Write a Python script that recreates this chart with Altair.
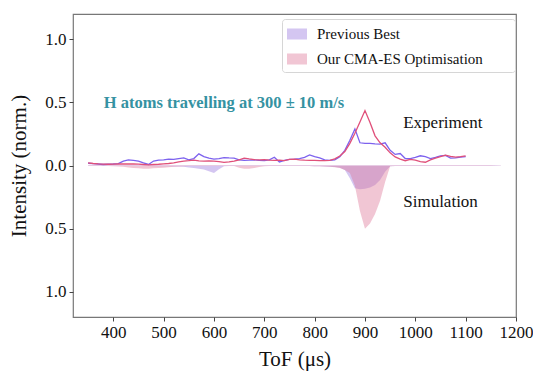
import altair as alt
import pandas as pd

# ---------------- data ----------------
series_names = ["Previous Best", "Our CMA-ES Optimisation"]

exp_t = list(range(350, 1101, 10))
prev_exp = [
    0.018, 0.015, 0.012, 0.008, 0.01, 0.012, 0.015, 0.035, 0.045, 0.04,
    0.035, 0.02, 0.008, 0.035, 0.042, 0.045, 0.05, 0.048, 0.055, 0.06,
    0.045, 0.055, 0.092, 0.07, 0.058, 0.05, 0.055, 0.063, 0.06, 0.058,
    0.045, 0.04, 0.042, 0.045, 0.04, 0.038, 0.045, 0.066, 0.028, 0.04,
    0.048, 0.05, 0.055, 0.065, 0.084, 0.07, 0.06, 0.045, 0.04, 0.045,
    0.07, 0.12, 0.2, 0.29, 0.18, 0.175, 0.175, 0.172, 0.17, 0.18,
    0.12, 0.088, 0.095, 0.055, 0.055, 0.065, 0.077, 0.07, 0.055, 0.065,
    0.077, 0.08, 0.058, 0.06, 0.066, 0.07,
]
ours_exp = [
    0.02, 0.016, 0.013, 0.011, 0.01, 0.011, 0.012, 0.013, 0.012, 0.012,
    0.011, 0.008, 0.005, 0.008, 0.01, 0.013, 0.016, 0.02, 0.028, 0.035,
    0.038, 0.042, 0.036, 0.034, 0.036, 0.034, 0.03, 0.025, 0.028, 0.035,
    0.045, 0.058, 0.052, 0.047, 0.045, 0.047, 0.043, 0.04, 0.042, 0.038,
    0.048, 0.05, 0.045, 0.042, 0.04, 0.04, 0.038, 0.038, 0.04, 0.052,
    0.075, 0.11, 0.175, 0.255, 0.345, 0.435, 0.34, 0.235, 0.18, 0.145,
    0.1, 0.068, 0.05, 0.038, 0.048, 0.042, 0.03, 0.026, 0.045, 0.058,
    0.07, 0.082, 0.072, 0.066, 0.07, 0.077,
]

sim_t = list(range(350, 1171, 10))
prev_sim = [
    -0.004, -0.004, -0.004, -0.004, -0.004, -0.004, -0.004, -0.004, -0.004, -0.004,
    -0.004, -0.004, -0.004, -0.005, -0.005, -0.006, -0.006, -0.007, -0.008, -0.01,
    -0.015, -0.02, -0.025, -0.032, -0.045, -0.06, -0.03, -0.005, -0.003, -0.003,
    -0.003, -0.003, -0.003, -0.003, -0.003, -0.003, -0.003, -0.003, -0.003, -0.003,
    -0.003, -0.003, -0.003, -0.003, -0.004, -0.005, -0.006, -0.008, -0.01, -0.012,
    -0.018, -0.035, -0.1, -0.18, -0.188, -0.185, -0.175, -0.155, -0.115, -0.05,
    -0.006, -0.003, -0.003, -0.003, -0.003, -0.003, -0.003, -0.003, -0.003, -0.003,
    -0.003, -0.003, -0.003, -0.003, -0.003, -0.003, -0.003, -0.003, -0.003, -0.003,
    -0.003, -0.003, -0.002,
]
ours_sim = [
    -0.003, -0.003, -0.003, -0.003, -0.004, -0.005, -0.007, -0.01, -0.015, -0.02,
    -0.022, -0.025, -0.025, -0.022, -0.02, -0.018, -0.014, -0.01, -0.007, -0.005,
    -0.004, -0.003, -0.003, -0.003, -0.003, -0.003, -0.003, -0.003, -0.003, -0.003,
    -0.018, -0.025, -0.025, -0.02, -0.012, -0.006, -0.004, -0.003, -0.003, -0.003,
    -0.003, -0.003, -0.003, -0.003, -0.004, -0.005, -0.006, -0.008, -0.01, -0.013,
    -0.02, -0.035, -0.06, -0.16, -0.36, -0.5, -0.46, -0.385, -0.28, -0.13,
    -0.005, -0.003, -0.003, -0.003, -0.003, -0.003, -0.003, -0.003, -0.003, -0.003,
    -0.003, -0.003, -0.003, -0.003, -0.003, -0.003, -0.003, -0.003, -0.003, -0.003,
    -0.003, -0.002, -0.002,
]

x_ticks = [400, 500, 600, 700, 800, 900, 1000, 1100, 1200]
y_ticks = [-1.0, -0.5, 0.0, 0.5, 1.0]

annotations = pd.DataFrame({
    "t": [381, 976, 976],
    "v": [0.455, 0.295, -0.327],
    "label": ["H atoms travelling at 300 ± 10 m/s", "Experiment", "Simulation"],
    "kind": ["title", "plain", "plain"],
})

# ---------------- frames ----------------
exp_df = pd.DataFrame({
    "t": exp_t * 2,
    "v": prev_exp + ours_exp,
    "series": [series_names[0]] * len(exp_t) + [series_names[1]] * len(exp_t),
})
sim_df = pd.DataFrame({
    "t": sim_t * 2,
    "v": prev_sim + ours_sim,
    "series": [series_names[0]] * len(sim_t) + [series_names[1]] * len(sim_t),
})

FONT = "Times New Roman, Liberation Serif, serif"

xscale = alt.Scale(domain=[320, 1200], nice=False, zero=False)
yscale = alt.Scale(domain=[-1.2, 1.2], nice=False)

x_enc = alt.X("t:Q", scale=xscale, title="ToF (μs)",
              axis=alt.Axis(values=x_ticks, format="d", grid=False,
                            labelFlush=False, labelOverlap=False))
y_enc = alt.Y("v:Q", scale=yscale, title="Intensity (norm.)", stack=None,
              axis=alt.Axis(values=y_ticks, grid=False, labelFlush=False,
                            labelExpr="format(abs(datum.value), '.1f')"))

areas = alt.Chart(sim_df).mark_area(opacity=0.4, interpolate="linear").encode(
    x=x_enc,
    y=y_enc,
    color=alt.Color(
        "series:N",
        scale=alt.Scale(domain=series_names, range=["#9370DB", "#DB7093"]),
        legend=alt.Legend(
            title="MMM",
            titleOrient="right",
            titleFontSize=10.5,
            titleColor="#ffffff",
            titlePadding=0,
            orient="none",
            legendX=209,
            legendY=5,
            symbolType="M-1,-0.55L1,-0.55L1,0.55L-1,0.55Z",
            symbolSize=400,
            symbolOpacity=0.4,
            symbolStrokeWidth=0,
            labelFont=FONT,
            labelFontSize=15,
            labelColor="#111",
            labelLimit=0,
            labelOffset=10,
            rowPadding=7,
            padding=5,
            strokeColor="#d6d6d6",
            fillColor="white",
            cornerRadius=3,
        ),
    ),
    order=alt.Order("series:N"),
)

line_prev = alt.Chart(exp_df).transform_filter(
    alt.datum.series == series_names[0]
).mark_line(color="#7d62ee", strokeWidth=1.3).encode(x="t:Q", y="v:Q")

line_ours = alt.Chart(exp_df).transform_filter(
    alt.datum.series == series_names[1]
).mark_line(color="#e0507a", strokeWidth=1.3).encode(x="t:Q", y="v:Q")

title_txt = alt.Chart(annotations).transform_filter(
    alt.datum.kind == "title"
).mark_text(align="left", baseline="alphabetic", font=FONT, fontSize=16.5,
            fontWeight="bold", color="#3592a2").encode(
    x="t:Q", y="v:Q", text="label:N")

plain_txt = alt.Chart(annotations).transform_filter(
    alt.datum.kind == "plain"
).mark_text(align="left", baseline="alphabetic", font=FONT, fontSize=17,
            color="#111").encode(
    x="t:Q", y="v:Q", text="label:N")

chart = alt.layer(areas, line_prev, line_ours, title_txt, plain_txt).properties(
    width=443,
    height=303,
    autosize=alt.AutoSizeParams(type="none"),
    padding={"left": 65, "top": 6, "right": 17, "bottom": 58},
).configure_view(
    stroke="#777777", strokeWidth=1.2
).configure_axis(
    domain=False,
    labelFont=FONT,
    titleFont=FONT,
    labelFontSize=17,
    titleFontSize=21,
    titleFontWeight="normal",
    labelColor="#111",
    titleColor="#111",
    tickColor="#444",
    tickSize=4,
    labelPadding=3,
).configure_axisX(
    titlePadding=8,
).configure_axisY(
    titlePadding=15,
)

chart.save("out.html", embed_options={"renderer": "svg", "actions": False})
